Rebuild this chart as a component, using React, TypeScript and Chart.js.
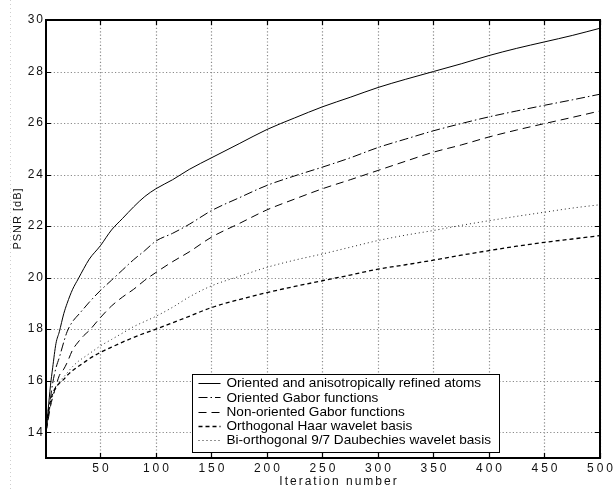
import React, { useEffect, useRef } from "react";
import { Chart, registerables } from "chart.js";

Chart.register(...registerables);

// ---- data ----
const iterations = [1, 3, 5, 7, 10, 13, 17, 20, 25, 30, 35, 40, 50, 60, 70, 80, 90, 100, 115, 130, 150, 175, 200, 225, 250, 275, 300, 325, 350, 375, 400, 425, 450, 475, 500];

const orientedAtoms = [14.0, 14.9, 15.8, 16.5, 17.45, 17.9, 18.6, 19.0, 19.55, 19.95, 20.35, 20.72, 21.24, 21.85, 22.3, 22.75, 23.15, 23.45, 23.8, 24.2, 24.65, 25.2, 25.75, 26.2, 26.63, 27.0, 27.38, 27.7, 28.0, 28.3, 28.62, 28.9, 29.15, 29.4, 29.68];
const orientedGabor = [14.0, 14.6, 15.3, 15.9, 16.5, 16.9, 17.5, 17.9, 18.3, 18.55, 18.8, 19.05, 19.5, 19.9, 20.3, 20.7, 21.05, 21.42, 21.72, 22.07, 22.6, 23.1, 23.58, 23.95, 24.29, 24.65, 25.05, 25.38, 25.7, 25.98, 26.24, 26.47, 26.69, 26.9, 27.12];
const nonOrientedGabor = [14.0, 14.5, 15.0, 15.35, 15.8, 16.2, 16.45, 16.7, 17.2, 17.5, 17.75, 17.95, 18.45, 18.9, 19.25, 19.55, 19.9, 20.2, 20.62, 21.0, 21.57, 22.1, 22.63, 23.05, 23.45, 23.8, 24.16, 24.52, 24.87, 25.15, 25.46, 25.73, 25.98, 26.22, 26.47];
const haarBasis = [14.0, 14.8, 15.2, 15.5, 15.75, 15.9, 16.05, 16.2, 16.4, 16.55, 16.7, 16.85, 17.1, 17.3, 17.5, 17.68, 17.85, 18.0, 18.25, 18.5, 18.84, 19.15, 19.42, 19.66, 19.88, 20.1, 20.33, 20.5, 20.68, 20.87, 21.05, 21.22, 21.37, 21.5, 21.63];
const daubechiesBasis = [14.0, 14.6, 15.05, 15.4, 15.7, 15.95, 16.15, 16.3, 16.55, 16.75, 16.9, 17.05, 17.35, 17.6, 17.85, 18.1, 18.3, 18.5, 18.85, 19.25, 19.68, 20.05, 20.4, 20.68, 20.92, 21.18, 21.44, 21.65, 21.83, 22.03, 22.21, 22.38, 22.54, 22.7, 22.83];

const seriesLabels = [
  "Oriented and anisotropically refined atoms",
  "Oriented Gabor functions",
  "Non-oriented Gabor functions",
  "Orthogonal Haar wavelet basis",
  "Bi-orthogonal 9/7 Daubechies wavelet basis",
];

const xTickValues = [50, 100, 150, 200, 250, 300, 350, 400, 450, 500];
const yTickValues = [14, 16, 18, 20, 22, 24, 26, 28, 30];
const xAxisTitle = "Iteration number";
const yAxisTitle = "PSNR [dB]";

// ---- styles ----
const seriesStyles = [
  { dash: [] as number[], width: 1, color: "#000" },
  { dash: [9, 3, 1.5, 3], width: 1, color: "#000" },
  { dash: [8, 5], width: 1, color: "#000" },
  { dash: [4, 3], width: 1.3, color: "#000" },
  { dash: [1, 3], width: 1, color: "#222" },
];

const FONT = '"Liberation Sans", Arial, sans-serif';

// draw text with letter spacing; anchor on the visible ink
function spacedText(ctx: any, text: string, x: number, y: number, spacing: number, anchor: string) {
  ctx.save();
  ctx.textAlign = "left";
  ctx.textBaseline = "middle";
  const chars = text.split("");
  const widths = chars.map((c) => ctx.measureText(c).width);
  const total = widths.reduce((a, b) => a + b, 0) + spacing * (chars.length - 1);
  let cx = anchor === "center" ? x - total / 2 : anchor === "right" ? x - total : x;
  chars.forEach((c, i) => {
    ctx.fillText(c, cx, y);
    cx += widths[i] + spacing;
  });
  ctx.restore();
}

function drawGrid(chart: any) {
  const ctx = chart.ctx;
  const { left, right, top, bottom } = chart.chartArea;
  const xs = chart.scales.x;
  const ys = chart.scales.y;
  ctx.save();
  ctx.strokeStyle = "#8a8a8a";
  ctx.lineWidth = 1.2;
  ctx.setLineDash([1.2, 2.2]);
  xs.ticks.forEach((t: any) => {
    const px = Math.round(xs.getPixelForValue(t.value)) + 0.5;
    ctx.beginPath();
    ctx.moveTo(px, top + 1);
    ctx.lineTo(px, bottom - 1);
    ctx.stroke();
  });
  ys.ticks.forEach((t: any) => {
    const py = Math.round(ys.getPixelForValue(t.value)) + 0.5;
    ctx.beginPath();
    ctx.moveTo(left + 1, py);
    ctx.lineTo(right - 1, py);
    ctx.stroke();
  });
  ctx.restore();
}

const decorPlugin = {
  id: "decor",
  beforeDraw(chart: any) {
    const ctx = chart.ctx;
    ctx.save();
    ctx.strokeStyle = "#cfcfcf";
    ctx.lineWidth = 1;
    ctx.setLineDash([1, 3]);
    ctx.beginPath();
    ctx.moveTo(10.5, 0);
    ctx.lineTo(10.5, chart.height);
    ctx.stroke();
    ctx.beginPath();
    ctx.restore();
    drawGrid(chart);
  },
  afterDraw(chart: any) {
    const ctx = chart.ctx;
    const { left, right, top, bottom } = chart.chartArea;
    const xs = chart.scales.x;
    const ys = chart.scales.y;

    ctx.save();
    ctx.setLineDash([]);
    ctx.strokeStyle = "#000";
    ctx.lineWidth = 1.2;
    ctx.beginPath();
    xs.ticks.forEach((t: any) => {
      const px = Math.round(xs.getPixelForValue(t.value)) + 0.5;
      ctx.moveTo(px, bottom);
      ctx.lineTo(px, bottom - 5);
      ctx.moveTo(px, top);
      ctx.lineTo(px, top + 5);
    });
    ys.ticks.forEach((t: any) => {
      const py = Math.round(ys.getPixelForValue(t.value)) + 0.5;
      ctx.moveTo(left, py);
      ctx.lineTo(left + 5, py);
      ctx.moveTo(right, py);
      ctx.lineTo(right - 5, py);
    });
    ctx.stroke();
    ctx.beginPath();

    // tick labels from the scales' ticks
    ctx.fillStyle = "#111";
    ctx.font = `12px ${FONT}`;
    xs.ticks.forEach((t: any) => {
      spacedText(ctx, String(t.value), xs.getPixelForValue(t.value), bottom + 11, 3, "center");
    });
    ys.ticks.forEach((t: any) => {
      spacedText(ctx, String(t.value), left - 3, ys.getPixelForValue(t.value), 2, "right");
    });

    // legend box
    ctx.font = `13.6px ${FONT}`;
    const boxLeft = 192.5;
    const boxTop = 374.5;
    const rowH = 14.3;
    const textX = boxLeft + 34;
    let maxW = 0;
    chart.data.datasets.forEach((d: any) => {
      maxW = Math.max(maxW, ctx.measureText(d.label).width);
    });
    const boxW = Math.round(textX + maxW + 9 - boxLeft);
    const boxH = Math.round(rowH * 5 + 6);
    ctx.fillStyle = "#fff";
    ctx.fillRect(boxLeft, boxTop, boxW, boxH);
    ctx.lineWidth = 1;
    ctx.strokeStyle = "#000";
    ctx.strokeRect(boxLeft, boxTop, boxW, boxH);
    chart.data.datasets.forEach((d: any, i: number) => {
      const cy = boxTop + 8.5 + i * rowH;
      ctx.save();
      ctx.strokeStyle = d.borderColor;
      ctx.lineWidth = d.borderWidth;
      ctx.setLineDash(d.borderDash || []);
      ctx.beginPath();
      ctx.moveTo(boxLeft + 6, Math.round(cy) + 0.5);
      ctx.lineTo(boxLeft + 28, Math.round(cy) + 0.5);
      ctx.stroke();
      ctx.beginPath();
      ctx.restore();
      ctx.fillStyle = "#000";
      ctx.textAlign = "left";
      ctx.textBaseline = "middle";
      ctx.fillText(d.label, textX, cy + 0.5);
    });

    // frame
    ctx.lineWidth = 2;
    ctx.strokeStyle = "#000";
    ctx.strokeRect(left, top, right - left, bottom - top);

    // axis titles
    ctx.fillStyle = "#111";
    ctx.font = `12px ${FONT}`;
    spacedText(ctx, xAxisTitle, 338, 482, 2, "center");
    ctx.save();
    ctx.font = `11px ${FONT}`;
    ctx.translate(18, 219);
    ctx.rotate(-Math.PI / 2);
    spacedText(ctx, yAxisTitle, 0, 0, 1, "center");
    ctx.restore();
    ctx.restore();
  },
};

export default function App() {
  const canvasRef = useRef<HTMLCanvasElement | null>(null);

  useEffect(() => {
    const canvas = canvasRef.current;
    if (!canvas) return;
    const series = [orientedAtoms, orientedGabor, nonOrientedGabor, haarBasis, daubechiesBasis];
    const datasets = series.map((vals, i) => ({
      label: seriesLabels[i],
      data: iterations.map((x, j) => ({ x, y: vals[j] })),
      borderColor: seriesStyles[i].color,
      borderWidth: seriesStyles[i].width,
      borderDash: seriesStyles[i].dash,
      pointRadius: 0,
      fill: false,
      cubicInterpolationMode: "monotone" as const,
    }));

    const chart = new Chart(canvas, {
      type: "line",
      data: { datasets },
      options: {
        animation: false,
        responsive: false,
        devicePixelRatio: 1,
        layout: { padding: { left: 0, right: 16, top: 20, bottom: 0 } },
        plugins: {
          legend: { display: false },
          tooltip: { enabled: false },
        },
        scales: {
          x: {
            type: "linear",
            min: 1,
            max: 500,
            afterBuildTicks: (s: any) => {
              s.ticks = xTickValues.map((v) => ({ value: v }));
            },
            afterFit: (s: any) => {
              s.height = 31;
            },
            ticks: { display: false },
            grid: { display: false },
            border: { display: false },
          },
          y: {
            type: "linear",
            min: 13,
            max: 30,
            afterBuildTicks: (s: any) => {
              s.ticks = yTickValues.map((v) => ({ value: v }));
            },
            afterFit: (s: any) => {
              s.width = 46;
            },
            ticks: { display: false },
            grid: { display: false },
            border: { display: false },
          },
        },
      },
      plugins: [decorPlugin],
    });
    return () => chart.destroy();
  }, []);

  return (
    <canvas
      ref={canvasRef}
      width={616}
      height={489}
      style={{ position: "fixed", left: 0, top: 0, width: 616, height: 489, display: "block", background: "#fff" }}
    />
  );
}
